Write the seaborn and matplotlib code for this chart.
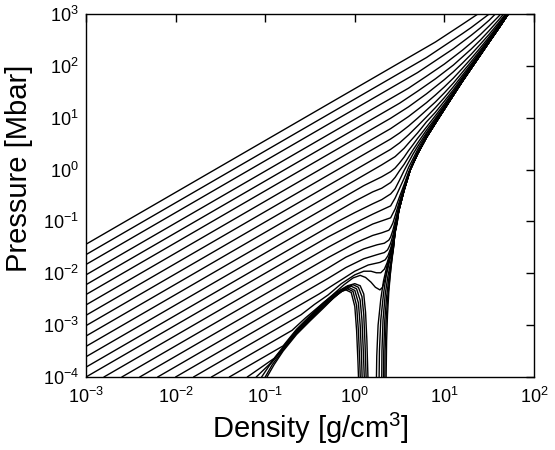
import numpy as np
import pandas as pd
import matplotlib
matplotlib.use("Agg")
import matplotlib.pyplot as plt
import seaborn as sns
from matplotlib.ticker import LogLocator, LogFormatterMathtext, NullLocator

# isotherms, hottest first
# points are (log10 density [g/cm3], log10 pressure [Mbar])
t00 = [(-3, -1.44), (0.9, 2.46), (1.2, 2.80), (1.4, 3.03)]
t01 = [(-3, -1.64), (0.8, 2.16), (1.0, 2.39), (1.2, 2.62), (1.3, 2.74), (1.4, 2.87), (1.5, 3.0), (1.52, 3.03)]
t02 = [(-3, -1.83), (0.7, 1.87), (0.9, 2.10), (1.1, 2.33), (1.3, 2.59), (1.4, 2.73), (1.5, 2.88), (1.58, 3.02)]
t03 = [(-3, -2.03), (0.6, 1.57), (0.8, 1.80), (1.0, 2.035), (1.2, 2.30), (1.3, 2.445), (1.4, 2.60),
       (1.5, 2.77), (1.6, 2.945), (1.64, 3.02)]
t04 = [(-3, -2.22), (0.5, 1.28), (0.7, 1.51), (0.9, 1.75), (1.1, 2.015), (1.3, 2.325), (1.4, 2.495),
       (1.5, 2.68), (1.6, 2.875), (1.67, 3.02)]
t05 = [(-3, -2.41), (0.4, 0.99), (0.6, 1.21), (0.8, 1.46), (1.0, 1.735), (1.1, 1.885), (1.2, 2.05),
       (1.3, 2.225), (1.4, 2.415), (1.5, 2.61), (1.6, 2.82), (1.69, 3.02)]
t06 = [(-3, -2.61), (0.4, 0.79), (0.6, 1.023), (0.7, 1.156), (0.8, 1.29), (0.9, 1.438), (1.0, 1.595),
       (1.1, 1.764), (1.2, 1.95), (1.3, 2.143), (1.4, 2.347), (1.5, 2.56), (1.6, 2.785), (1.7, 3.023)]
t07 = [(-3, -2.81), (0.4, 0.59), (0.5, 0.706), (0.6, 0.84), (0.7, 0.99), (0.8, 1.146), (0.9, 1.304),
       (1.0, 1.48), (1.1, 1.668), (1.2, 1.875), (1.3, 2.083), (1.4, 2.30), (1.5, 2.528), (1.6, 2.758), (1.71, 3.03)]
t08 = [(-3, -3.01), (0.4, 0.39), (0.5, 0.515), (0.6, 0.67), (0.7, 0.84), (0.8, 1.015), (0.9, 1.195),
       (1.0, 1.388), (1.1, 1.596), (1.2, 1.817), (1.3, 2.039), (1.4, 2.269), (1.5, 2.504), (1.6, 2.742), (1.71, 3.02)]
t09 = [(-3, -3.21), (0.3, 0.09), (0.45, 0.25), (0.5, 0.33), (0.55, 0.41), (0.6, 0.51), (0.7, 0.705),
       (0.8, 0.92), (0.9, 1.105), (1.0, 1.32), (1.1, 1.54), (1.2, 1.777), (1.3, 2.01), (1.4, 2.247),
       (1.5, 2.488), (1.6, 2.73), (1.71, 3.0)]
t10 = [(-3, -3.41), (0.1, -0.31), (0.3, -0.14), (0.4, -0.04), (0.45, 0.03), (0.5, 0.13), (0.55, 0.24),
       (0.6, 0.366), (0.65, 0.48), (0.7, 0.6), (0.8, 0.82), (0.9, 1.04), (1.0, 1.266), (1.1, 1.504),
       (1.2, 1.749), (1.3, 1.988), (1.4, 2.232), (1.5, 2.478), (1.6, 2.723), (1.71, 3.0)]
t11 = [(-3, -3.61), (0.0, -0.61), (0.2, -0.43), (0.3, -0.36), (0.4, -0.25), (0.45, -0.15), (0.5, -0.02),
       (0.55, 0.10), (0.6, 0.24), (0.65, 0.38), (0.7, 0.51), (0.8, 0.76), (0.9, 0.99), (1.0, 1.23),
       (1.2, 1.73), (1.4, 2.22), (1.6, 2.72), (1.72, 3.02)]
t12 = [(-3, -3.81), (-0.2, -1.01), (0.0, -0.83), (0.2, -0.66), (0.3, -0.58), (0.4, -0.47), (0.45, -0.37),
       (0.5, -0.2), (0.55, -0.02), (0.6, 0.14), (0.65, 0.30), (0.7, 0.443), (0.8, 0.71), (0.9, 0.96),
       (1.0, 1.209), (1.2, 1.72), (1.4, 2.217), (1.6, 2.715), (1.72, 3.02)]
t13 = [(-3, -4.0), (-0.3, -1.3), (0.0, -1.03), (0.2, -0.86), (0.3, -0.78), (0.4, -0.7), (0.45, -0.55),
       (0.5, -0.36), (0.55, -0.17), (0.6, 0.04), (0.65, 0.21), (0.7, 0.38), (0.8, 0.68), (0.9, 0.935),
       (1.0, 1.194), (1.2, 1.714), (1.4, 2.214)]
t14 = [(-2.8, -4.0), (-0.3, -1.5), (0.0, -1.22), (0.2, -1.05), (0.3, -0.99), (0.4, -0.93), (0.45, -0.76),
       (0.5, -0.52), (0.55, -0.29), (0.6, -0.05), (0.65, 0.154), (0.7, 0.33), (0.8, 0.634)]
t15 = [(-2.6, -4.0), (-0.3, -1.7), (0.0, -1.42), (0.2, -1.27), (0.3, -1.22), (0.38, -1.17), (0.4, -1.12),
       (0.425, -1.03), (0.45, -0.89), (0.5, -0.6), (0.55, -0.33), (0.6, -0.074), (0.7, 0.315)]
t16 = [(-2.4, -4.0), (-0.3, -1.9), (-0.1, -1.69), (0.1, -1.53), (0.25, -1.45), (0.33, -1.42), (0.38, -1.36),
       (0.4, -1.3), (0.425, -1.17), (0.45, -1.0), (0.5, -0.656), (0.55, -0.365), (0.6, -0.094)]
t17 = [(-2.2, -4.0), (-0.3, -2.1), (-0.1, -1.89), (0.1, -1.72), (0.25, -1.64), (0.33, -1.6), (0.365, -1.55),
       (0.38, -1.5), (0.4, -1.42), (0.425, -1.27), (0.45, -1.07), (0.5, -0.69), (0.55, -0.38)]
t18 = [(-2.0, -4.0), (-0.4, -2.4), (-0.2, -2.18), (0.0, -1.96), (0.15, -1.84), (0.28, -1.79), (0.34, -1.74),
       (0.37, -1.66), (0.4, -1.52), (0.425, -1.36), (0.45, -1.16), (0.5, -0.72), (0.55, -0.39)]
t19 = [(-1.8, -4.0), (-0.6, -2.8), (-0.45, -2.6), (-0.3, -2.42), (-0.15, -2.2), (0.0, -2.03), (0.1, -1.96),
       (0.18, -1.96), (0.24, -1.99), (0.29, -1.99), (0.33, -1.92), (0.36, -1.8), (0.39, -1.63), (0.42, -1.43),
       (0.45, -1.19), (0.48, -0.96)]
t20 = [(-1.6, -4.0), (-0.7, -3.1), (-0.55, -2.86), (-0.4, -2.64), (-0.25, -2.42), (-0.12, -2.22),
       (-0.02, -2.09), (0.06, -2.04), (0.12, -2.08), (0.18, -2.17), (0.23, -2.27), (0.28, -2.32), (0.31, -2.27),
       (0.34, -2.1), (0.37, -1.85), (0.40, -1.6), (0.44, -1.3), (0.47, -1.06)]

# coldest isotherms: pressure goes negative between the two branches
b0_low = [(-1.4, -4.0), (-0.8, -3.4), (-0.65, -3.08), (-0.5, -2.82), (-0.35, -2.57), (-0.2, -2.36),
          (-0.08, -2.24), (0.0, -2.2), (0.06, -2.24), (0.1, -2.4), (0.12, -2.75), (0.135, -3.3), (0.15, -4.2)]
b0_high = [(0.24, -4.2), (0.245, -3.6), (0.26, -3.0), (0.29, -2.5), (0.32, -2.15), (0.36, -1.85),
           (0.4, -1.62), (0.43, -1.45)]
b1_low = [(-1.2, -4.0), (-0.9, -3.64), (-0.8, -3.42), (-0.65, -3.1), (-0.5, -2.84), (-0.35, -2.59),
          (-0.2, -2.38), (-0.1, -2.27), (-0.02, -2.22), (0.04, -2.27), (0.08, -2.45), (0.1, -2.8),
          (0.115, -3.4), (0.13, -4.2)]
b1_high = [(0.27, -4.2), (0.275, -3.5), (0.29, -2.9), (0.32, -2.4), (0.35, -2.05), (0.39, -1.75), (0.43, -1.5)]
b2_low = [(-1.1, -4.0), (-0.95, -3.75), (-0.8, -3.44), (-0.65, -3.12), (-0.5, -2.86), (-0.35, -2.61),
          (-0.2, -2.4), (-0.12, -2.3), (-0.04, -2.25), (0.02, -2.3), (0.06, -2.52), (0.08, -2.9),
          (0.095, -3.5), (0.11, -4.2)]
b2_high = [(0.3, -4.2), (0.303, -3.5), (0.315, -2.9), (0.34, -2.4), (0.37, -2.05), (0.4, -1.8), (0.43, -1.52)]
b3_low = [(-1.04, -4.0), (-0.95, -3.77), (-0.8, -3.46), (-0.65, -3.14), (-0.5, -2.88), (-0.35, -2.63),
          (-0.2, -2.42), (-0.13, -2.33), (-0.06, -2.28), (0.0, -2.33), (0.04, -2.57), (0.06, -3.0),
          (0.075, -3.6), (0.085, -4.2)]
b3_high = [(0.32, -4.2), (0.323, -3.5), (0.335, -2.9), (0.355, -2.45), (0.38, -2.1), (0.405, -1.8), (0.43, -1.53)]
b4_low = [(-1.0, -4.0), (-0.92, -3.76), (-0.8, -3.48), (-0.65, -3.16), (-0.5, -2.9), (-0.35, -2.65),
          (-0.22, -2.45), (-0.14, -2.34), (-0.08, -2.3), (-0.02, -2.35), (0.02, -2.62), (0.04, -3.1),
          (0.055, -3.7), (0.065, -4.2)]
b4_high = [(0.335, -4.2), (0.338, -3.5), (0.35, -2.9), (0.368, -2.45), (0.39, -2.1), (0.41, -1.8), (0.43, -1.54)]
b5_low = [(-0.98, -4.0), (-0.9, -3.76), (-0.8, -3.5), (-0.65, -3.18), (-0.5, -2.92), (-0.35, -2.67),
          (-0.24, -2.48), (-0.16, -2.36), (-0.1, -2.32), (-0.04, -2.37), (0.0, -2.64), (0.02, -3.1),
          (0.035, -3.7), (0.045, -4.2)]

# cold envelope that all isotherms run into at high density (also the coldest right branch)
cold_curve = [(0.348, -4.2), (0.355, -3.3), (0.365, -2.8), (0.38, -2.35), (0.40, -1.95), (0.425, -1.55),
              (0.45, -1.2), (0.49, -0.8), (0.55, -0.4), (0.62, 0.0), (0.70, 0.3), (0.80, 0.62), (0.92, 0.95),
              (1.05, 1.3), (1.2, 1.7), (1.35, 2.08), (1.5, 2.46), (1.62, 2.76), (1.72, 3.02)]

pieces = [t00, t01, t02, t03, t04, t05, t06, t07, t08, t09, t10, t11, t12, t13, t14, t15, t16, t17,
          t18, t19, t20, b0_low, b0_high, b1_low, b1_high, b2_low, b2_high, b3_low, b3_high,
          b4_low, b4_high, b5_low, cold_curve]

rows = []
for i, pts in enumerate(pieces):
    pts = list(pts)
    # pieces that stop on the envelope continue along it up to the top
    if pts[-1][1] > -3.9 and pts[-1][1] < 2.9:
        pts += [p for p in cold_curve if p[0] > pts[-1][0] + 0.005]
    for lr, lp in pts:
        rows.append({"piece": i, "rho": 10.0 ** lr, "p": 10.0 ** lp})
df = pd.DataFrame(rows)

sns.set_style("white")
plt.rcParams["font.family"] = ["Liberation Sans", "DejaVu Sans"]
plt.rcParams["mathtext.fontset"] = "custom"
plt.rcParams["mathtext.rm"] = "Liberation Sans"
plt.rcParams["mathtext.it"] = "Liberation Sans:italic"
plt.rcParams["text.color"] = "black"
plt.rcParams["axes.labelcolor"] = "black"
plt.rcParams["xtick.color"] = "black"
plt.rcParams["ytick.color"] = "black"

fig = plt.figure(figsize=(5.55, 4.5), dpi=100)
ax = fig.add_axes([86 / 555, 73 / 450, 448 / 555, 363 / 450])

sns.lineplot(data=df, x="rho", y="p", units="piece", estimator=None, sort=False,
             color="black", lw=1.0, legend=False, ax=ax)

ax.set_xscale("log")
ax.set_yscale("log")
ax.set_xlim(1e-3, 1e2)
ax.set_ylim(1e-4, 1e3)
ax.xaxis.set_major_locator(LogLocator(base=10, numticks=10))
ax.yaxis.set_major_locator(LogLocator(base=10, numticks=10))
ax.xaxis.set_minor_locator(NullLocator())
ax.yaxis.set_minor_locator(NullLocator())
ax.xaxis.set_major_formatter(LogFormatterMathtext())
ax.yaxis.set_major_formatter(LogFormatterMathtext())
ax.tick_params(direction="in", top=True, right=True, length=6, width=1, labelsize=13,
               colors="black", labelcolor="black")
ax.tick_params(axis="x", pad=7)
ax.tick_params(axis="y", pad=5)
for s in ax.spines.values():
    s.set_color("black")
    s.set_linewidth(1.0)

ax.set_xlabel("Density [g/cm$^3$]", fontsize=21, labelpad=3, color="black")
ax.set_ylabel("Pressure [Mbar]", fontsize=21, color="black")
ax.yaxis.set_label_coords(-0.118, 0.576)

fig.savefig("out.png", dpi=100)
